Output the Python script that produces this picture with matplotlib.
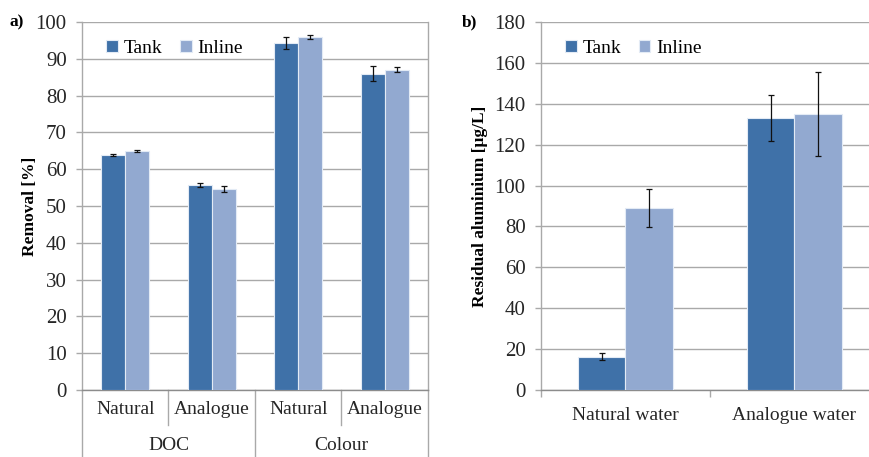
import matplotlib.pyplot as plt
import matplotlib.transforms as mtransforms
from matplotlib.lines import Line2D
import numpy as np

# panel a) removal
sub_labels = ["Natural", "Analogue", "Natural", "Analogue"]
group_labels = ["DOC", "Colour"]
tank_removal = [63.8, 55.7, 94.2, 86.0]
tank_removal_err = [0.2, 0.45, 1.6, 2.1]
inline_removal = [64.9, 54.5, 96.0, 87.0]
inline_removal_err = [0.25, 0.8, 0.6, 0.7]

# panel b) residual aluminium
water_labels = ["Natural water", "Analogue water"]
tank_al = [16.3, 132.9]
tank_al_err = [1.8, 11.3]
inline_al = [88.9, 134.9]
inline_al_err = [9.2, 20.6]

TANK = "#3f71a8"
INLINE = "#92a9d0"
EDGE = "#e3ebf5"
GRID = "#a9a9a9"
TXT = "#262626"

plt.rcParams['font.family'] = ['Liberation Serif', 'DejaVu Serif']
fs = 14
fs_tick = 15

fig = plt.figure(figsize=(8.7, 4.57), dpi=100)
W, H = 870.0, 457.0
ax1 = fig.add_axes([82 / W, 67 / H, 346 / W, 368 / H])
ax2 = fig.add_axes([541 / W, 67 / H, 329 / W, 368 / H])

w1 = 0.28
x1 = np.arange(len(sub_labels))
ax1.bar(x1 - w1 / 2, tank_removal, w1, color=TANK, edgecolor=EDGE, lw=0.8,
        yerr=tank_removal_err, capsize=2, error_kw=dict(lw=0.9, capthick=0.9, ecolor="#111111"),
        label="Tank", zorder=3)
ax1.bar(x1 + w1 / 2, inline_removal, w1, color=INLINE, edgecolor=EDGE, lw=0.8,
        yerr=inline_removal_err, capsize=2, error_kw=dict(lw=0.9, capthick=0.9, ecolor="#111111"),
        label="Inline", zorder=3)
ax1.set_xlim(-0.5, len(sub_labels) - 0.5)
ax1.set_ylim(0, 100)
ax1.set_yticks(range(0, 101, 10))
ax1.set_xticks([])
ax1.set_ylabel("Removal [%]", fontsize=12.5, fontweight="bold")
ax1.yaxis.set_label_coords(-0.128, 0.5)

# two-level category axis
trans = mtransforms.blended_transform_factory(ax1.transData, ax1.transAxes)
row1, row2 = -0.095, -0.182
for i, lab in enumerate(sub_labels):
    ax1.text(x1[i], -0.052, lab, transform=trans, ha="center", va="center",
             fontsize=fs, color=TXT)
for g, lab in enumerate(group_labels):
    ax1.text(2 * g + 0.5, row2 + 0.03, lab, transform=trans, ha="center", va="center",
             fontsize=fs, color=TXT)
for xb in np.arange(-0.5, len(sub_labels), 1.0):
    bottom = row2 if int(xb + 0.5) % 2 == 0 else row1
    ax1.add_line(Line2D([xb, xb], [0, bottom], transform=trans, color=GRID,
                        lw=1, clip_on=False))

w2 = 0.284
x2 = np.arange(len(water_labels))
ax2.bar(x2 - w2 / 2, tank_al, w2, color=TANK, edgecolor=EDGE, lw=0.8,
        yerr=tank_al_err, capsize=2, error_kw=dict(lw=0.9, capthick=0.9, ecolor="#111111"),
        label="Tank", zorder=3)
ax2.bar(x2 + w2 / 2, inline_al, w2, color=INLINE, edgecolor=EDGE, lw=0.8,
        yerr=inline_al_err, capsize=2, error_kw=dict(lw=0.9, capthick=0.9, ecolor="#111111"),
        label="Inline", zorder=3)
ax2.set_xlim(-0.5, -0.5 + 329 / 169)
ax2.set_ylim(0, 180)
ax2.set_yticks(range(0, 181, 20))
ax2.set_xticks(x2)
ax2.set_xticklabels(water_labels, fontsize=fs, color=TXT)
ax2.set_xticks([-0.5, 0.5], minor=True)
ax2.tick_params(axis="x", which="major", length=0, pad=12)
ax2.tick_params(axis="x", which="minor", length=5, color=GRID, width=1)
ax2.set_ylabel("Residual aluminium [μg/L]", fontsize=12.5, fontweight="bold")
ax2.yaxis.set_label_coords(-0.161, 0.5)

for ax in (ax1, ax2):
    ax.yaxis.grid(True, color=GRID, lw=1, zorder=0)
    ax.set_axisbelow(True)
    ax.tick_params(axis="y", length=4, color=GRID, width=1, labelsize=fs_tick,
                   labelcolor=TXT, pad=7)
    for s in ax.spines.values():
        s.set_color(GRID)
        s.set_linewidth(1)
    ax.spines["top"].set_visible(False)
    ax.spines["bottom"].set_color("#8c8c8c")
    ax.legend(loc="upper left", bbox_to_anchor=(0.02, 1.0), ncol=2, frameon=False,
              fontsize=fs, handlelength=0.6, handleheight=0.6, handletextpad=0.3,
              columnspacing=0.9)
ax2.spines["right"].set_visible(False)

fig.text(10 / W, 1 - 22 / H, "a)", fontsize=12.5, fontweight="bold", va="center")
fig.text(462 / W, 1 - 22 / H, "b)", fontsize=12.5, fontweight="bold", va="center")

fig.savefig("out.png", dpi=100)
